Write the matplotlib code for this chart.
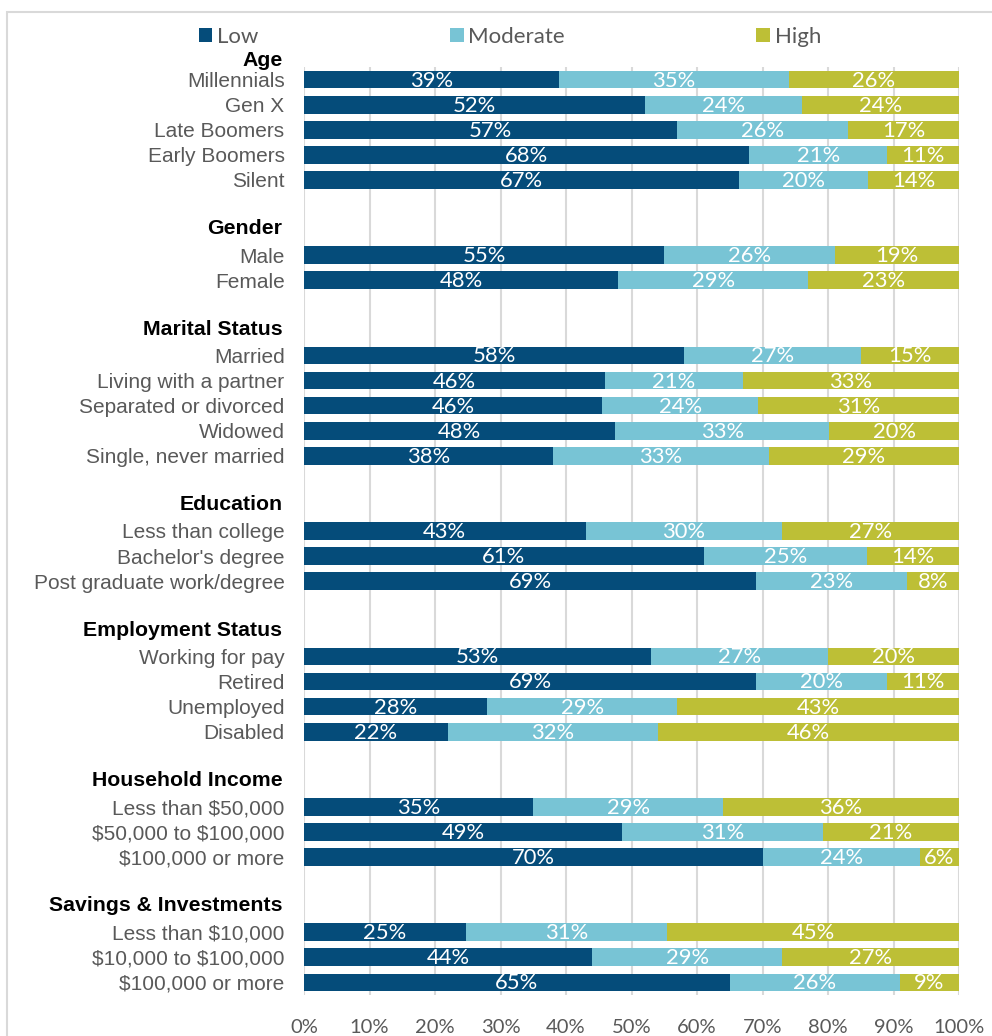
import numpy as np
import matplotlib.pyplot as plt
from matplotlib.patches import Rectangle

plt.rcParams["text.parse_math"] = False  # labels contain dollar signs

# Survey breakdown by demographic group (percent Low / Moderate / High)
group_names = ["Age", "Gender", "Marital Status", "Education",
               "Employment Status", "Household Income", "Savings & Investments"]
group_sizes = [5, 2, 5, 3, 4, 3, 3]

labels = [
    "Millennials", "Gen X", "Late Boomers", "Early Boomers", "Silent",
    "Male", "Female",
    "Married", "Living with a partner", "Separated or divorced", "Widowed",
    "Single, never married",
    "Less than college", "Bachelor's degree", "Post graduate work/degree",
    "Working for pay", "Retired", "Unemployed", "Disabled",
    "Less than $50,000", "$50,000 to $100,000", "$100,000 or more",
    "Less than $10,000", "$10,000 to $100,000", "$100,000 or more",
]
low = [39, 52, 57, 68, 67,
       55, 48,
       58, 46, 46, 48, 38,
       43, 61, 69,
       53, 69, 28, 22,
       35, 49, 70,
       25, 44, 65]
moderate = [35, 24, 26, 21, 20,
            26, 29,
            27, 21, 24, 33, 33,
            30, 25, 23,
            27, 20, 29, 32,
            29, 31, 24,
            31, 29, 26]
high = [26, 24, 17, 11, 14,
        19, 23,
        15, 33, 31, 20, 29,
        27, 14, 8,
        20, 11, 43, 46,
        36, 21, 6,
        45, 27, 9]

series_names = ["Low", "Moderate", "High"]
colors = ["#054C7A", "#78C4D5", "#BDBF36"]
GRAY = "#595959"

# row layout: header row, item rows, blank spacer row
header_rows = []
item_rows = []
row = 0
for size in group_sizes:
    header_rows.append(row)
    item_rows.extend(range(row + 1, row + 1 + size))
    row += size + 2
item_rows = np.array(item_rows)

values = np.array([low, moderate, high], dtype=float)
shares = values / values.sum(axis=0) * 100  # stretch each row to 100%

fig = plt.figure(figsize=(9.92, 10.36), dpi=100)
ax = fig.add_axes([304 / 992, 1 - 995 / 1036, 655 / 992, (995 - 67) / 1036])

left = np.zeros(len(labels))
handles = []
for i, name in enumerate(series_names):
    bars = ax.barh(item_rows, shares[i], left=left, height=0.71,
                   color=colors[i], label=name, zorder=3)
    handles.append(bars)
    for y, x0, w, v in zip(item_rows, left, shares[i], values[i]):
        ax.text(x0 + w / 2, y + 0.04, f"{v:.0f}%", ha="center", va="center",
                color="white", fontsize=15.8, family="Lato", zorder=4)
    left += shares[i]

ax.set_xlim(0, 100)
ax.set_ylim(item_rows[-1] + 0.5, 0.5)
ax.set_xticks(np.arange(0, 101, 10))
ax.set_xticklabels([f"{t}%" for t in range(0, 101, 10)], family="Lato",
                   fontsize=14.5, color=GRAY)
ax.tick_params(axis="x", length=0, pad=17)
ax.set_yticks(item_rows)
ax.set_yticklabels(labels, family="Liberation Sans", fontsize=15, color=GRAY)
ax.tick_params(axis="y", length=0, pad=14)
ax.grid(axis="x", color="#D9D9D9", linewidth=1.5, zorder=0)
for s in ax.spines.values():
    s.set_visible(False)

for name, r in zip(group_names, header_rows):
    y = r + 0.25 if r == 0 else r - 0.05
    ax.text(-0.033, y, name, transform=ax.get_yaxis_transform(),
            ha="right", va="center", fontsize=15.3, fontweight="bold",
            family="Liberation Sans", color="black", clip_on=False)

leg = fig.legend(handles=handles, loc="center", bbox_to_anchor=(0.514, 1 - 37 / 1036),
                 ncol=3, frameon=False, handlelength=0.62, handleheight=0.62,
                 handletextpad=0.22, columnspacing=8.6,
                 prop={"family": "Lato", "size": 16})
for t in leg.get_texts():
    t.set_color(GRAY)

# light outer frame
fig.add_artist(Rectangle((7 / 992, -0.1), 2, 1.1 - 12 / 1036,
                         transform=fig.transFigure, fill=False,
                         edgecolor="#D9D9D9", linewidth=1.5))

fig.savefig("out.png", dpi=100)
